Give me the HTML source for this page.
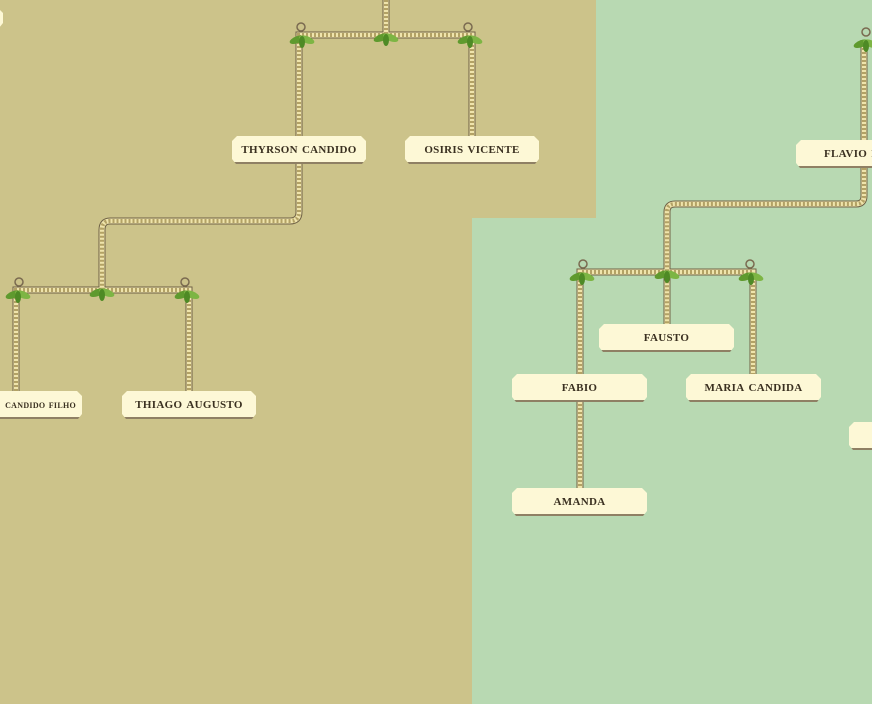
<!DOCTYPE html>
<html><head><style>
body{margin:0;width:872px;height:704px;overflow:hidden;background:#b8d9b2;position:relative;font-family:"Liberation Serif",serif}
.bg{position:absolute;background:#ccc38a}
.n{position:absolute;height:28px;background:linear-gradient(#fdf8d6 0,#fdf8d6 26px,#8f8064 26px);clip-path:polygon(5px 0,calc(100% - 5px) 0,100% 5px,100% calc(100% - 5px),calc(100% - 4px) 100%,4px 100%,0 calc(100% - 5px),0 5px);font-variant:small-caps;text-transform:lowercase;font-weight:bold;font-size:15px;color:#3a3020;line-height:26px;text-align:center;letter-spacing:0.3px;white-space:nowrap}
svg{position:absolute;left:0;top:0}
</style></head><body>
<div class="bg" style="left:0;top:0;width:596px;height:218px"></div>
<div class="bg" style="left:0;top:0;width:472px;height:704px"></div>
<svg width="872" height="704">
<defs>
<g id="leaf"><ellipse cx="-5" cy="0" rx="8" ry="3.5" fill="#5f9a2e" transform="rotate(-20)"/><ellipse cx="5" cy="0" rx="8" ry="3.5" fill="#7db544" transform="rotate(20)"/><ellipse cx="0" cy="4" rx="3" ry="6" fill="#4e8a25"/></g>
<g id="ring"><circle cx="0" cy="-8" r="4" fill="none" stroke="#7a6a50" stroke-width="1.5"/></g>
</defs>
<g fill="none" stroke-linejoin="round">
<g id="ropes">
<path d="M386 0V35 M299 136V35H472V136 M299 162V212Q299 221 290 221H110Q102 221 102 230V290 M16 391V290H189V391 M864 40V196Q864 204 856 204H675Q667 204 667 212V324 M580 374V272H753V374 M580 400V488"/>
</g>
</g>
<use href="#ropes" stroke="#6f6246" stroke-width="7" fill="none"/>
<use href="#ropes" stroke="#efe4ac" stroke-width="5" fill="none"/>
<use href="#ropes" stroke="#b3a265" stroke-width="4" stroke-dasharray="2 2" fill="none"/>
<g>
<use href="#ring" x="301" y="35"/><use href="#ring" x="468" y="35"/>
<use href="#ring" x="19" y="290"/><use href="#ring" x="185" y="290"/>
<use href="#ring" x="583" y="272"/><use href="#ring" x="750" y="272"/>
<use href="#ring" x="866" y="40"/>
<use href="#leaf" x="386" y="36"/><use href="#leaf" x="302" y="38"/><use href="#leaf" x="470" y="38"/>
<use href="#leaf" x="102" y="291"/><use href="#leaf" x="18" y="293"/><use href="#leaf" x="187" y="293"/>
<use href="#leaf" x="667" y="273"/><use href="#leaf" x="582" y="275"/><use href="#leaf" x="751" y="275"/>
<use href="#leaf" x="866" y="42"/>
</g>
</svg>
<div class="n" style="left:-10px;top:8px;width:13px;height:20px"></div>
<div class="n" style="left:232px;top:136px;width:134px">Thyrson Candido</div>
<div class="n" style="left:405px;top:136px;width:134px">Osiris Vicente</div>
<div class="n" style="left:-52px;top:391px;width:134px;font-size:12px;text-align:right"><span style="margin-right:6px">Candido Filho</span></div>
<div class="n" style="left:122px;top:391px;width:134px">Thiago Augusto</div>
<div class="n" style="left:599px;top:324px;width:135px">Fausto</div>
<div class="n" style="left:512px;top:374px;width:135px">Fabio</div>
<div class="n" style="left:686px;top:374px;width:135px">Maria Candida</div>
<div class="n" style="left:512px;top:488px;width:135px">Amanda</div>
<div class="n" style="left:796px;top:140px;width:135px;text-align:left"><span style="margin-left:28px">Flavio F</span></div>
<div class="n" style="left:849px;top:422px;width:60px"></div>
</body></html>
